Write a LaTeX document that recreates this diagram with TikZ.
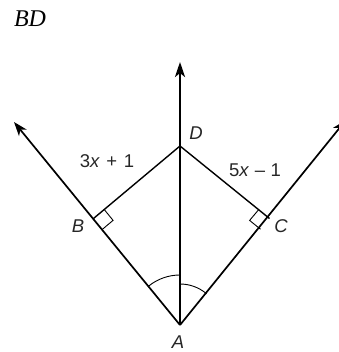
\documentclass[tikz,border=0pt]{standalone}
\usepackage{fontspec}
\setsansfont{Liberation Sans}
\setmainfont{Liberation Serif}
\usetikzlibrary{arrows.meta,calc}
\begin{document}
\begin{tikzpicture}[x=1pt,y=-1pt,
  ray/.style={line width=1.7pt,-{Stealth[length=14pt,width=10pt,inset=4pt]}},
  vray/.style={line width=2.6pt,-{Stealth[length=15pt,width=10pt,inset=4pt]}},
  seg/.style={line width=1.4pt},
  thin/.style={line width=0.9pt},
  lbl/.style={font=\sffamily\itshape\fontsize{18.5}{20}\selectfont,text=black!85,inner sep=0pt},
  expr/.style={font=\sffamily\fontsize{18.5}{20}\selectfont,text=black!85,inner sep=0pt}]
\useasboundingbox (0,0) rectangle (338,352);
\coordinate (A) at (180,325);
\coordinate (B) at (93.5,218.5);
\coordinate (C) at (269.5,218.5);
\coordinate (D) at (180,146);
\coordinate (L) at (14,122);
\coordinate (R) at (346,120);
\coordinate (U) at (180,62);
% rays
\draw[ray] (A) -- (L);
\draw[ray] (A) -- (R);
\draw[vray] (A) -- (U);
% segments
\draw[seg] (B) -- (D) -- (C);
% right angle marks
\draw[thin] ($(B)!14pt!(A)$) -- ($(B)!14pt!(A)+(B)!14pt!(D)-(B)$) -- ($(B)!14pt!(D)$);
\draw[thin] ($(C)!14pt!(A)$) -- ($(C)!14pt!(A)+(C)!14pt!(D)-(C)$) -- ($(C)!14pt!(D)$);
% angle arcs
\draw[thin] ($(A)!50pt!(B)$) arc[start angle=-129.1, end angle=-90, radius=50];
\draw[thin] ($(A)!41pt!(U)$) arc[start angle=-90, end angle=-49.7, radius=41];
% labels
\node[lbl] (nD) at (196,133) {D};
\node[lbl] (nB) at (78,226) {B};
\node[lbl] (nC) at (281,226) {C};
\node[lbl] (nA) at (178,342) {A};
\node[expr] (e1) at (107,161) {3\textit{x}\hspace{0.35em}+\hspace{0.35em}1};
\node[expr] (e2) at (255,170) {5\textit{x}\hspace{0.3em}{\char"2013}\hspace{0.3em}1};
\node[font=\rmfamily\itshape\fontsize{24}{26}\selectfont,inner sep=0pt] (t) at (30,19) {BD};
\end{tikzpicture}
\end{document}
